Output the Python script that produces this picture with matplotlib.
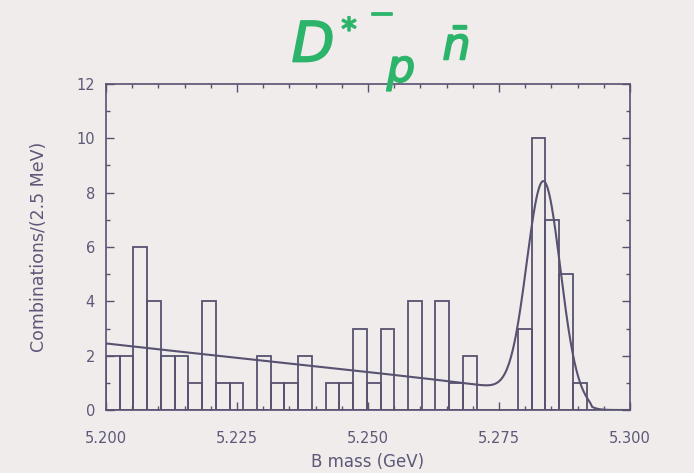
import numpy as np
import matplotlib
matplotlib.use("Agg")
import matplotlib.pyplot as plt
import matplotlib.patheffects as pe
from matplotlib.ticker import MultipleLocator

# Candidate counts per mass bin, starting at 5.200 GeV
counts = [2, 2, 6, 4, 2, 2, 1, 4, 1, 1,
          0, 2, 1, 1, 2, 0, 1, 1, 3, 1,
          3, 0, 4, 0, 4, 1, 2, 0, 0, 0,
          3, 10, 7, 5, 1, 0, 0, 0, 0, 0]
mass_start = 5.200
bin_width = 0.00262

# Fit: Gaussian signal on an ARGUS-shaped background
sig_mean = 5.2835
sig_sigma = 0.0032
sig_amp = 7.85
bkg_at_start = 2.45
argus_end = 5.2927
argus_c = 10.0

x_ticks = [5.200, 5.225, 5.250, 5.275, 5.300]
x_ticklabels = ["5.200", "5.225", "5.250", "5.275", "5.300"]
y_ticks = [0, 2, 4, 6, 8, 10, 12]

ink = "#585170"
text_col = "#5f5777"
paper = "#efeceb"
marker_green = "#2db46b"

fig = plt.figure(figsize=(6.94, 4.73), dpi=100, facecolor=paper)
ax = fig.add_axes([106 / 694, 63 / 473, 524 / 694, 326 / 473])
ax.set_facecolor(paper)

edges = mass_start + bin_width * np.arange(len(counts) + 1)
ax.bar(edges[:-1], counts, width=bin_width, align="edge", fill=False,
       edgecolor=ink, linewidth=1.3)


def argus(m):
    z = np.clip(1.0 - (m / argus_end) ** 2, 0.0, None)
    return m * np.sqrt(z) * np.exp(argus_c * z)


m = np.linspace(5.200, 5.300, 1200)
bkg = bkg_at_start * argus(m) / argus(np.array([mass_start]))[0]
fit = bkg + sig_amp * np.exp(-0.5 * ((m - sig_mean) / sig_sigma) ** 2)
ax.plot(m, fit, color=ink, linewidth=1.5)

ax.set_xlim(5.200, 5.300)
ax.set_ylim(0, 12)
ax.set_xticks(x_ticks)
ax.set_xticklabels(x_ticklabels)
ax.set_yticks(y_ticks)
ax.xaxis.set_minor_locator(MultipleLocator(0.005))
ax.yaxis.set_minor_locator(MultipleLocator(1))

ax.tick_params(which="both", direction="in", top=True, right=True,
               color=ink, labelcolor=text_col, labelsize=10.5, width=1.0)
ax.tick_params(which="major", length=6)
ax.tick_params(which="minor", length=3)
ax.tick_params(axis="x", which="major", pad=15)
ax.tick_params(axis="y", which="major", pad=8)
for s in ax.spines.values():
    s.set_color(ink)
    s.set_linewidth(1.2)

ax.set_xlabel("B mass (GeV)", color=text_col, fontsize=12, labelpad=5)
ax.set_ylabel("Combinations/(2.5 MeV)", color=text_col, fontsize=12.5,
              labelpad=20)

# Hand-written decay label in green marker
stroke = [pe.withStroke(linewidth=1.3, foreground=marker_green)]
pieces = [
    ("D", 313, 46, 40),
    ("*", 349, 31, 22),
    ("\u2212", 382, 15, 24),
    ("p", 401, 69, 32),
    (r"$\bar{n}$", 456, 47, 32),
]
for txt, px, py, fs in pieces:
    fig.text(px / 694, 1 - py / 473, txt, color=marker_green, fontsize=fs,
             ha="center", va="center", style="oblique", path_effects=stroke)

fig.savefig("out.png", dpi=100, facecolor=paper)
